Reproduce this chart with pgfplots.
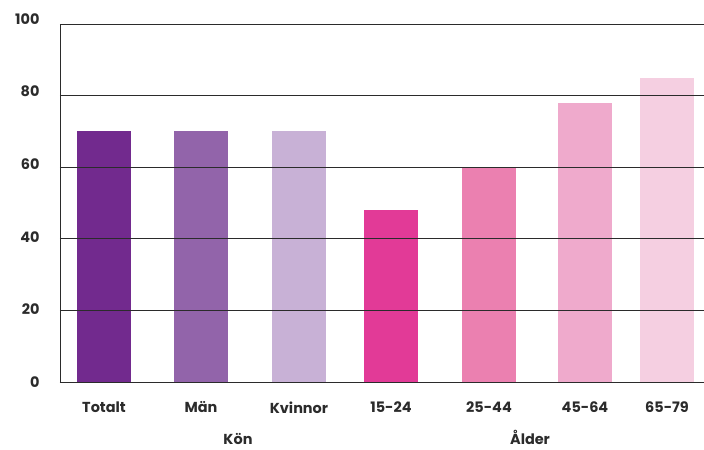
\documentclass[border=0pt]{standalone}
\usepackage{pgfplots}
\pgfplotsset{compat=1.18}
\usepackage{fontspec}
\setmainfont{Poppins}

\definecolor{totalt}{HTML}{722A8E}
\definecolor{man}{HTML}{9264AA}
\definecolor{kvinnor}{HTML}{C8B1D6}
\definecolor{a1524}{HTML}{E23A97}
\definecolor{a2544}{HTML}{EB80B0}
\definecolor{a4564}{HTML}{EFAACC}
\definecolor{a6579}{HTML}{F5CFE1}
\definecolor{txt}{HTML}{2B2B2B}

\pgfplotsset{
  mybar/.style={ybar, bar width=54bp, bar shift=0pt, draw=none, fill=#1},
}
\newcommand{\lblfont}{\bfseries\fontsize{14.5}{16}\selectfont}

\begin{document}
\begin{tikzpicture}
\useasboundingbox (-60bp,-68bp) rectangle (644bp,382bp);
\begin{axis}[
  at={(0,0)}, anchor=south west,
  scale only axis,
  width=644bp, height=358bp,
  xmin=60, xmax=704,
  ymin=0, ymax=100,
  clip=false,
  axis x line*=bottom,
  axis y line*=left,
  axis line style={txt, line width=0.8pt},
  ymajorgrids,
  grid style={txt, line width=0.8pt},
  axis on top,
  major tick length=0pt,
  ytick={0,20,40,60,80,100},
  yticklabels={{0},{\raisebox{2bp}{20}},{\raisebox{4bp}{40}},{\raisebox{6bp}{60}},{\raisebox{8bp}{80}},{\raisebox{10bp}{100}}},
  xtick={104,201,299,391,489,585,667},
  xticklabels={Totalt,Män,Kvinnor,15-24,25-44,45-64,65-79},
  tick label style={font=\lblfont, text=txt},
  yticklabel style={xshift=-17bp},
  xticklabel style={yshift=-16bp},
]
\addplot[mybar=totalt]  coordinates {(104,70)};
\addplot[mybar=man]     coordinates {(201,70)};
\addplot[mybar=kvinnor] coordinates {(299,70)};
\addplot[mybar=a1524]   coordinates {(391,48)};
\addplot[mybar=a2544]   coordinates {(489,60)};
\addplot[mybar=a4564]   coordinates {(585,78)};
\addplot[mybar=a6579]   coordinates {(667,85)};
\end{axis}
\node[font=\lblfont, text=txt, inner sep=0pt, anchor=base] at (178bp,-62bp) {Kön};
\node[font=\lblfont, text=txt, inner sep=0pt, anchor=base] at (470bp,-62bp) {Ålder};
\end{tikzpicture}
\end{document}
